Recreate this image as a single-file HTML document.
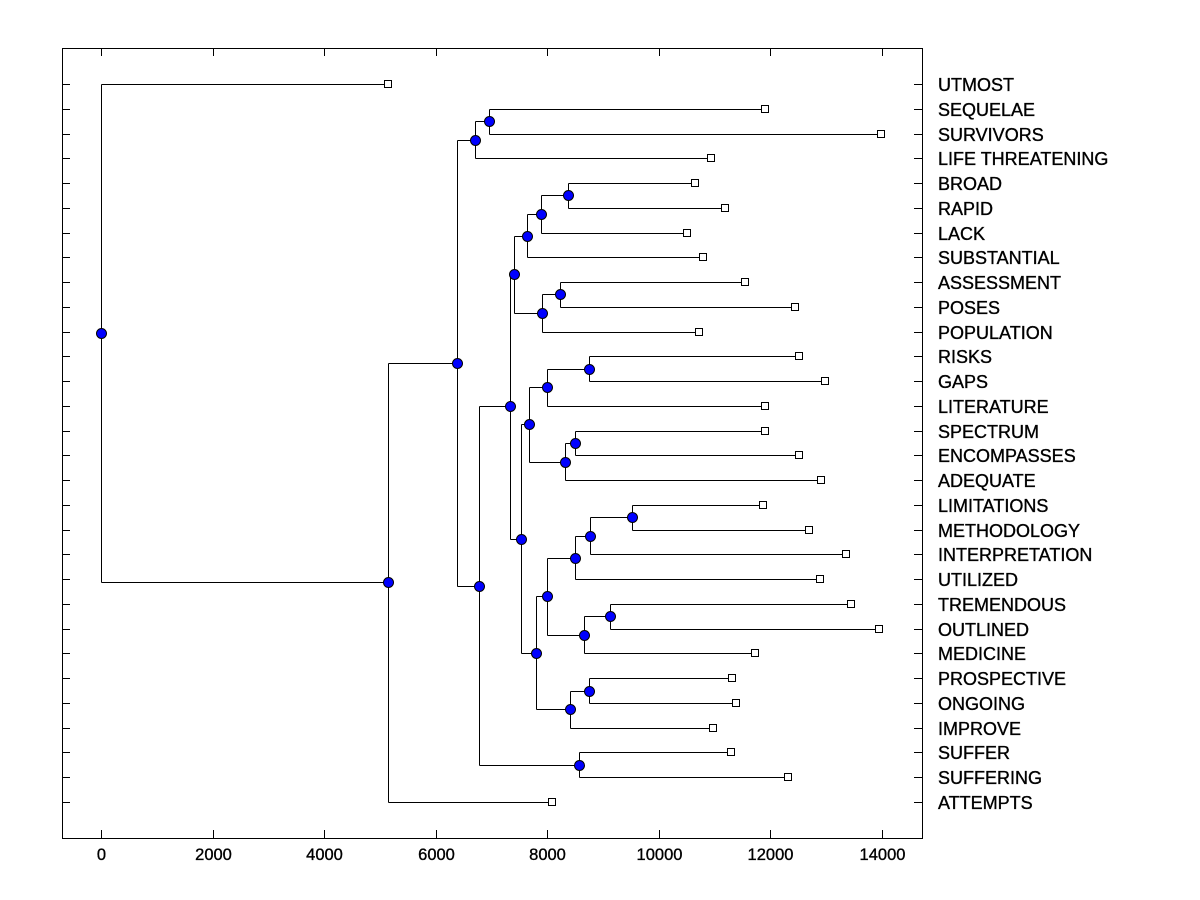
<!DOCTYPE html>
<html><head><meta charset="utf-8"><style>
html,body{margin:0;padding:0;background:#fff;}
svg{display:block;}
text{font-family:"Liberation Sans",Arial,sans-serif;fill:#000;stroke:#000;stroke-width:0.35;}
</style></head><body>
<svg id="chart" width="1200" height="900" xmlns="http://www.w3.org/2000/svg">
<rect x="62.5" y="48.5" width="860" height="790" fill="none" stroke="#000" stroke-width="1"/>
<g id="axes"></g>
<g id="links"></g>
<g id="marks"></g>
</svg>
<script>
const leafLabels = ["UTMOST","SEQUELAE","SURVIVORS","LIFE THREATENING","BROAD","RAPID","LACK","SUBSTANTIAL","ASSESSMENT","POSES","POPULATION","RISKS","GAPS","LITERATURE","SPECTRUM","ENCOMPASSES","ADEQUATE","LIMITATIONS","METHODOLOGY","INTERPRETATION","UTILIZED","TREMENDOUS","OUTLINED","MEDICINE","PROSPECTIVE","ONGOING","IMPROVE","SUFFER","SUFFERING","ATTEMPTS"];
const leafValues = [5140,11900,13980,10940,10650,11190,10510,10800,11550,12440,10720,12510,12980,11900,11900,12510,12910,11870,12690,13360,12890,13440,13950,11730,11310,11390,10970,11300,12320,8090];
const mergeLeft  = [1,30,4,32,33,8,35,34,11,38,14,40,39,17,43,44,21,46,45,24,49,48,42,37,27,53,31,56,0];
const mergeRight = [2,3,5,6,7,9,10,36,12,13,15,16,41,18,19,20,22,23,47,25,26,50,51,52,28,54,55,29,57];
const mergeValues = [6960,6700,8380,7880,7630,8220,7910,7410,8740,8000,8490,8320,7680,9510,8770,8490,9130,8660,8000,8740,8400,7800,7520,7340,8560,6770,6390,5140,0];
const xTicks = [0,2000,4000,6000,8000,10000,12000,14000];

const NS="http://www.w3.org/2000/svg";
const xScale = v => 101 + v*(882-101)/14000;
const yRow = i => 84 + i*(802-84)/29;
function mk(tag, attrs, parent){const e=document.createElementNS(NS,tag);for(const k in attrs)e.setAttribute(k,attrs[k]);parent.appendChild(e);return e;}
const axes=document.getElementById('axes'), links=document.getElementById('links'), marks=document.getElementById('marks');

xTicks.forEach(t=>{
  const x=Math.round(xScale(t))+0.5;
  const tk=mk('line',{x1:x,x2:x,y1:838,y2:830,stroke:'#000'},axes);
  
  
  const tt=mk('line',{x1:x,x2:x,y1:48,y2:56,stroke:'#000'},axes);
  
  
  const lb=mk('text',{x:x,y:860,'text-anchor':'middle','font-size':'16.5'},axes);
  lb.textContent=t;
  
  
});
leafLabels.forEach((name,i)=>{
  const y=Math.round(yRow(i))+0.5;
  const a=mk('line',{x1:62,x2:70,y1:y,y2:y,stroke:'#000'},axes);
  
  
  const b=mk('line',{x1:914,x2:922,y1:y,y2:y,stroke:'#000'},axes);
  
  
  const lb=mk('text',{x:938,y:y+6.5,'font-size':'18'},axes);
  lb.textContent=name;
  
  
});

const nLeaf=leafLabels.length;
const posX=[], posY=[];
leafValues.forEach((v,i)=>{posX[i]=xScale(v);posY[i]=yRow(i);});
mergeValues.forEach((v,k)=>{
  const id=nLeaf+k, l=mergeLeft[k], r=mergeRight[k];
  posX[id]=xScale(v); posY[id]=(posY[l]+posY[r])/2;
  const x=Math.round(posX[id])+0.5;
  const v1=mk('line',{x1:x,x2:x,y1:Math.round(posY[l])+0.5,y2:Math.round(posY[r])+0.5,stroke:'#000'},links);
  
  
  [l,r].forEach(c=>{
    const y=Math.round(posY[c])+0.5;
    const h=mk('line',{x1:x,x2:Math.round(posX[c])+0.5,y1:y,y2:y,stroke:'#000'},links);
    
    
  });
});
for(let i=0;i<nLeaf;i++){
  const sq=mk('rect',{x:Math.round(posX[i])-3.5,y:Math.round(posY[i])-3.5,width:7,height:7,fill:'#fff',stroke:'#000'},marks);
  
  
}
mergeValues.forEach((v,k)=>{
  const id=nLeaf+k;
  const c=mk('circle',{cx:Math.round(posX[id])+0.5,cy:Math.round(posY[id])+0.5,r:5,fill:'#0000ff',stroke:'#000'},marks);
  
  
});
</script>
</body></html>
